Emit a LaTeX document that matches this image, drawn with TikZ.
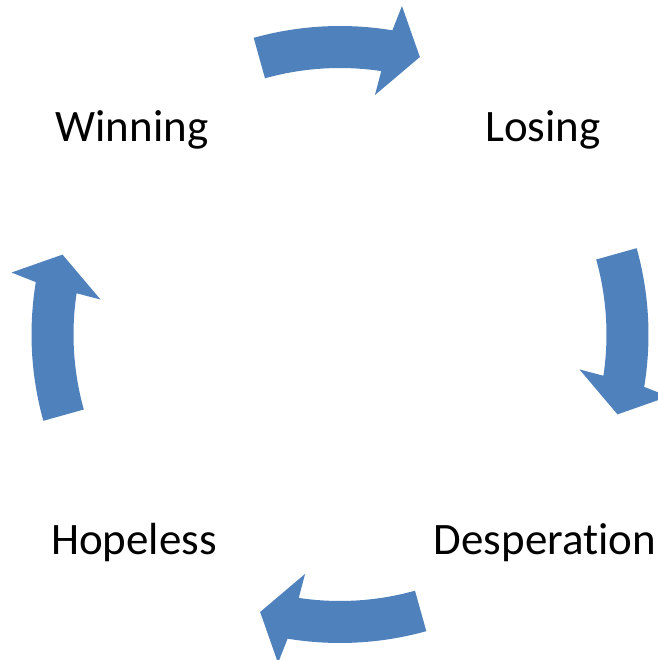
\documentclass[tikz,border=0pt]{standalone}
\usepackage{fontspec}
\setmainfont[Ligatures=NoCommon]{Carlito}
\definecolor{arrowblue}{RGB}{79,129,189}
\begin{document}
\begin{tikzpicture}[x=0.02cm,y=0.02cm,
  blockarrow/.style={fill=arrowblue},
  stagetext/.style={anchor=base,inner sep=0pt,font=\fontsize{25.6}{30}\selectfont}]
  \useasboundingbox (0,0) rectangle (657,660);
  % Mitte des Kreises
  \coordinate (hub) at (340,325.5);
  % Stationen
  \node[stagetext] (winning) at (132,518.3) {Winning};
  \node[stagetext] (losing) at (543,518.3) {Losing};
  \node[stagetext] (desperation) at (545,105.5) {Desperation};
  \node[stagetext] (hopeless) at (134,105.5) {Hopeless};
  % Pfeile (im Uhrzeigersinn)
  \foreach \ang in {90,0,-90,180} {
    \begin{scope}[shift={(hub)},rotate=\ang-90,shift={(0,-12.5)}]
      \fill[blockarrow] (105.6:321) arc[start angle=105.6,end angle=80.6,radius=6.42cm]
        -- (79.7:346.6) -- (74.6:300.8) -- (82.1:254.4) -- (81.5:279)
        arc[start angle=81.5,end angle=105.6,radius=5.58cm] -- cycle;
    \end{scope}
  }
\end{tikzpicture}
\end{document}
